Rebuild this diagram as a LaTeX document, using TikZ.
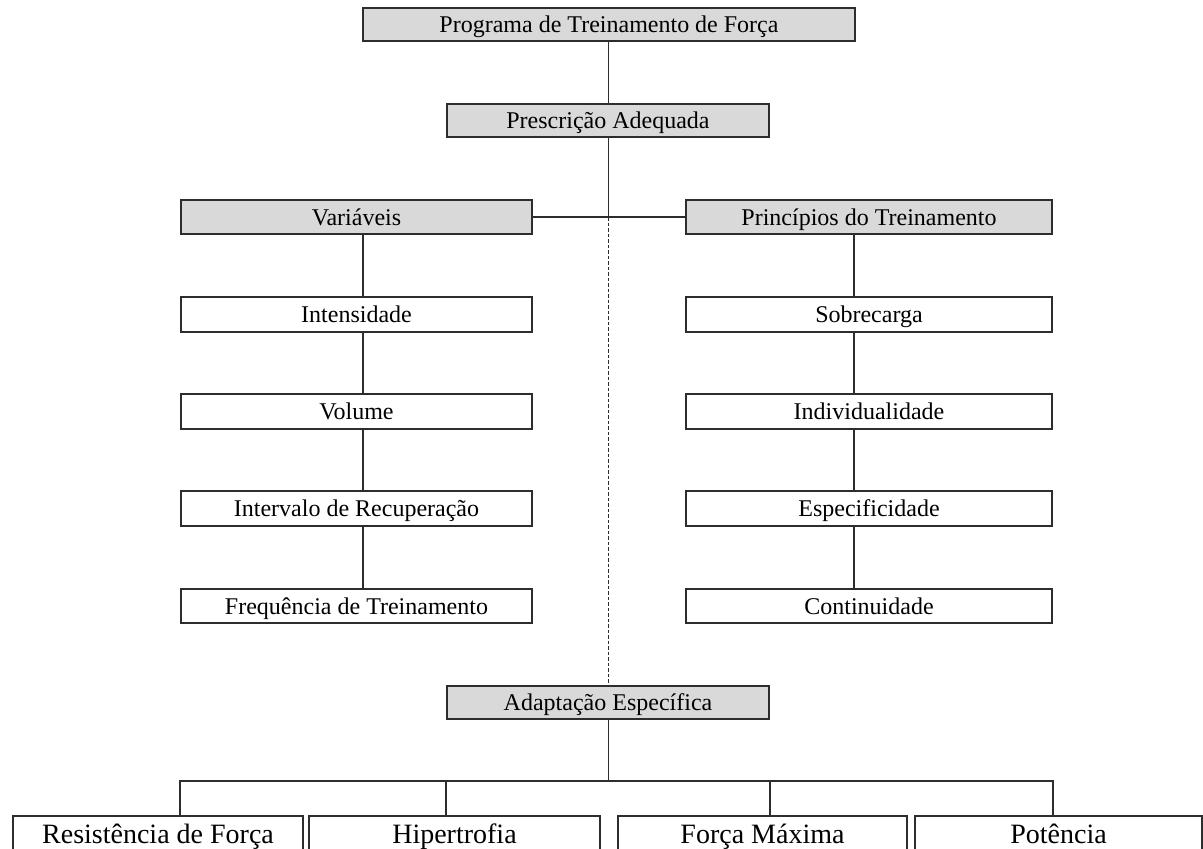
\documentclass[tikz,border=0pt]{standalone}
\usepackage{fontspec}
\setmainfont{Liberation Serif}
\usetikzlibrary{calc}
\definecolor{boxgray}{RGB}{217,217,217}
\definecolor{edge}{RGB}{45,45,45}
\begin{document}
\begin{tikzpicture}[x=1pt,y=-1pt,
  box/.style={draw=edge, line width=1.6pt, fill=white, inner sep=0pt, text=black,
    font=\fontsize{24}{28}\selectfont, text height=18pt, text depth=2pt},
  gbox/.style={box, fill=boxgray},
  bigbox/.style={box, font=\fontsize{28}{32}\selectfont, text height=21pt, text depth=2pt},
  conn/.style={draw=edge, line width=1.6pt},
  dashconn/.style={conn, line width=1.3pt, dash pattern=on 3.5pt off 2pt},
]
\clip (0,0) rectangle (1203,849);
\fill[white] (0,0) rectangle (1203,849);

% centre lines
\coordinate (mx) at (608.5,0);
\coordinate (lx) at (363,0);
\coordinate (rx) at (854,0);

% top chain
\node[gbox, minimum width=492pt, minimum height=33pt] (top) at (609,24.5) {Programa de Treinamento de Força};
\node[gbox, minimum width=322pt, minimum height=33pt] (presc) at (608,120.5) {Prescrição Adequada};

% columns
\node[gbox, minimum width=351pt, minimum height=34pt] (var) at (356.5,217) {Variáveis};
\node[gbox, minimum width=366pt, minimum height=34pt] (prin) at (869,217) {Princípios do Treinamento};

\node[box, minimum width=351pt, minimum height=35pt] (int) at (356.5,314.5) {Intensidade};
\node[box, minimum width=351pt, minimum height=35pt] (vol) at (356.5,411.5) {Volume};
\node[box, minimum width=351pt, minimum height=35pt] (ivr) at (356.5,508.5) {Intervalo de Recuperação};
\node[box, minimum width=351pt, minimum height=34pt] (freq) at (356.5,606) {Frequência de Treinamento};

\node[box, minimum width=366pt, minimum height=35pt] (sob) at (869,314.5) {Sobrecarga};
\node[box, minimum width=366pt, minimum height=35pt] (ind) at (869,411.5) {Individualidade};
\node[box, minimum width=366pt, minimum height=35pt] (esp) at (869,508.5) {Especificidade};
\node[box, minimum width=366pt, minimum height=34pt] (cont) at (869,606) {Continuidade};

\node[gbox, minimum width=322pt, minimum height=33pt] (adapt) at (608,702.5) {Adaptação Específica};

% bottom row
\node[bigbox, minimum width=290pt, minimum height=35pt] (res) at (158,833.5) {Resistência de Força};
\node[bigbox, minimum width=291pt, minimum height=35pt] (hip) at (454.5,833.5) {Hipertrofia};
\node[bigbox, minimum width=289pt, minimum height=35pt] (fmax) at (762.5,833.5) {Força Máxima};
\node[bigbox, minimum width=287pt, minimum height=35pt] (pot) at (1058.5,833.5) {Potência};

% connectors
\coordinate (j) at (mx |- var.east);
\coordinate (bus) at (608.5,781);
\draw[conn] (top.south -| mx) -- (presc.north -| mx);
\draw[conn] (presc.south -| mx) -- (j);
\draw[conn] (var.east) -- (prin.west);
\draw[dashconn] (j) -- (adapt.north -| mx);

\draw[conn] (var.south -| lx) -- (int.north -| lx);
\draw[conn] (int.south -| lx) -- (vol.north -| lx);
\draw[conn] (vol.south -| lx) -- (ivr.north -| lx);
\draw[conn] (ivr.south -| lx) -- (freq.north -| lx);

\draw[conn] (prin.south -| rx) -- (sob.north -| rx);
\draw[conn] (sob.south -| rx) -- (ind.north -| rx);
\draw[conn] (ind.south -| rx) -- (esp.north -| rx);
\draw[conn] (esp.south -| rx) -- (cont.north -| rx);

\draw[conn] (adapt.south -| mx) -- (bus);
\draw[conn] (var.west |- res.north) -- (var.west |- bus) -- (prin.east |- bus) -- (prin.east |- pot.north);
\draw[conn] (adapt.west |- bus) -- (adapt.west |- hip.north);
\draw[conn] (adapt.east |- bus) -- (adapt.east |- fmax.north);
\end{tikzpicture}
\end{document}
